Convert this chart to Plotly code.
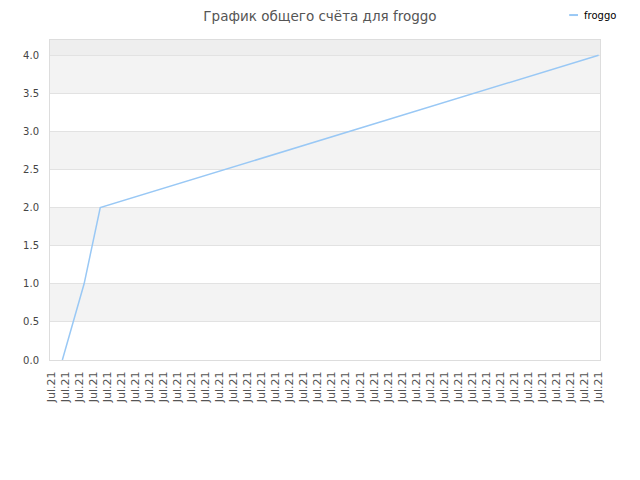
import plotly.graph_objects as go

# score history for froggo (x in tick-slot units)
score_x = [0.8, 2.35, 3.5, 39.0]
score_y = [0, 1, 2, 4]

tick_pos = list(range(40))
tick_text = ["Jul.21"] * 40

y_ticks = [0, 0.5, 1.0, 1.5, 2.0, 2.5, 3.0, 3.5, 4.0]
band_lo = [0.5, 1.5, 2.5, 3.5]

line_color = "#99c8f5"

fig = go.Figure()
fig.add_trace(go.Scatter(x=score_x, y=score_y, mode="lines", name="froggo",
                         line=dict(color=line_color, width=1.5), showlegend=False))

# alternating background bands
for lo in band_lo:
    fig.add_shape(type="rect", xref="paper", yref="y", x0=0, x1=1, y0=lo, y1=lo + 0.5,
                  fillcolor="#f3f3f3", line_width=0, layer="below")
fig.add_shape(type="rect", xref="paper", yref="y", x0=0, x1=1, y0=4.0, y1=4.2,
              fillcolor="#eeeeee", line_width=0, layer="below")

# small legend, top right
fig.add_shape(type="line", xref="paper", yref="paper", x0=0.944, x1=0.96, y0=1.078, y1=1.078,
              line=dict(color=line_color, width=2))
fig.add_annotation(text="froggo", xref="paper", yref="paper", x=0.968, y=1.078,
                   xanchor="left", yanchor="middle", showarrow=False,
                   font=dict(size=10, color="#000"))

# page body adds ~8px offset, so margins are shifted to compensate
fig.update_layout(
    width=640, height=480,
    margin=dict(l=42, r=48, t=32, b=128),
    paper_bgcolor="white", plot_bgcolor="white",
    font=dict(family="DejaVu Sans", size=10, color="#444"),
    title=dict(text="График общего счёта для froggo", x=0.4875, xanchor="center",
               y=0.982, yanchor="middle", font=dict(size=13.5, color="#555")),
    xaxis=dict(range=[-0.08, 39.1], tickmode="array", tickvals=tick_pos, ticktext=tick_text,
               tickangle=-90, showgrid=False, zeroline=False, automargin=False,
               showline=True, linecolor="#dddddd", mirror=True, ticklabelstandoff=6,
               ticks="", tickfont=dict(size=11, color="#555")),
    yaxis=dict(range=[0, 4.2], tickmode="array", tickvals=y_ticks, tickformat=".1f",
               showgrid=True, gridcolor="#e2e2e2", zeroline=False, automargin=False,
               showline=True, linecolor="#dddddd", mirror=True, ticklabelstandoff=8,
               ticks="", tickfont=dict(size=10, color="#444")),
)

fig.write_html("out.html")
